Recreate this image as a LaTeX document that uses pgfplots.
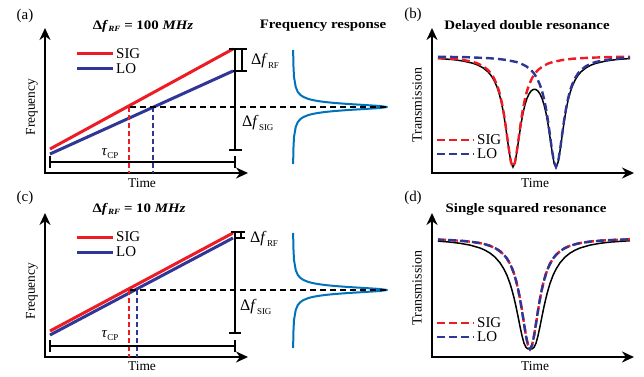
\documentclass[border=0pt]{standalone}
\usepackage{pgfplots}
\pgfplotsset{compat=1.18}
\usepackage{fontspec}
\setmainfont{Liberation Serif}
\usetikzlibrary{arrows.meta}
\definecolor{sigred}{RGB}{237,28,36}
\definecolor{loblue}{RGB}{46,54,150}
\definecolor{frblue}{RGB}{0,114,188}
\newcommand{\fs}[1]{\fontsize{#1}{#1}\selectfont}
\newcommand{\dfl}[1]{{\fs{16}Δ\textit{f}\kern0.3bp\raisebox{-3.5bp}{\fs{9}#1}}}
\newcommand{\ttl}[1]{\scalebox{1.15}[1]{\fs{13}\bfseries #1}}
\newcommand{\dft}[1]{\ttl{Δ\textit{f}\raisebox{-2.5bp}{\fs{8}\textit{RF}} = #1 \textit{MHz}}}
\newcommand{\tcp}{{\fs{15}\textit{τ}\raisebox{-3bp}{\fs{9}CP}}}
\tikzset{axarr/.style={black, line width=2bp, {Stealth[length=12bp,width=11bp]}-{Stealth[length=12bp,width=11bp]}, line join=miter},
 brk/.style={black, line width=1.8bp},
 vd/.style={line width=1.8bp, dash pattern=on 5bp off 3bp},
 hd/.style={black, line width=1.8bp, dash pattern=on 6bp off 4bp},
 cd/.style={line width=2.4bp, dash pattern=on 8bp off 4bp}}
\begin{document}
\begin{tikzpicture}
\useasboundingbox (0,0) rectangle (644bp,377bp);
\begin{axis}[at={(0,0)}, anchor=south west, scale only axis, width=644bp, height=377bp,
  xmin=0, xmax=644, ymin=0, ymax=377, y dir=reverse, axis lines=none, ticks=none, clip=false]
% ---------------- panel (a) ----------------
\addplot[axarr] coordinates {(45,28)(45,173)(248,173)};
\addplot[sigred, line width=3bp] coordinates {(50,149)(233,49)};
\addplot[loblue, line width=3bp] coordinates {(50,154)(233,71)};
\addplot[sigred, line width=3bp] coordinates {(77,54)(113,54)};
\addplot[loblue, line width=3bp] coordinates {(77,69)(113,69)};
\addplot[sigred, vd] coordinates {(129,107)(129,173)};
\addplot[loblue, vd] coordinates {(153,107)(153,173)};
\addplot[brk] coordinates {(50,162)(235,162)};
\addplot[brk] coordinates {(50,156)(50,168)};
\addplot[brk] coordinates {(235,156)(235,168)};
\addplot[brk] coordinates {(235,49)(235,150)};
\addplot[brk] coordinates {(229,49)(247,49)};
\addplot[brk] coordinates {(242,49)(242,71)};
\addplot[brk] coordinates {(233,71)(247,71)};
\addplot[brk] coordinates {(229,150)(242,150)};
\addplot[frblue, line width=2bp, line join=round] coordinates {(293.1,50)(293.5,67)(294.0,77)(295.7,87)(297.8,92)(300.5,95)(303.5,97)(308.5,99)(312.4,100)(317.7,101)(324.9,102)(334.9,103)(348.3,104)(364.7,105)(380.2,106)(387,107)(380.2,108)(364.7,109)(348.3,110)(334.9,111)(324.9,112)(317.7,113)(312.4,114)(308.5,115)(303.5,117)(300.5,119)(297.8,122)(295.7,127)(294.0,137)(293.5,147)(293.1,164)};
\addplot[hd] coordinates {(130,107)(388,107)};
% ---------------- panel (c) ----------------
\addplot[axarr] coordinates {(45,213)(45,357)(248,357)};
\addplot[sigred, line width=3bp] coordinates {(50,331)(233,233)};
\addplot[loblue, line width=3bp] coordinates {(50,335)(233,238)};
\addplot[sigred, line width=3bp] coordinates {(77,237)(113,237)};
\addplot[loblue, line width=3bp] coordinates {(77,252)(113,252)};
\addplot[sigred, vd] coordinates {(129,290)(129,357)};
\addplot[loblue, vd] coordinates {(137,290)(137,357)};
\addplot[brk] coordinates {(50,346)(235,346)};
\addplot[brk] coordinates {(50,340)(50,352)};
\addplot[brk] coordinates {(235,340)(235,352)};
\addplot[brk] coordinates {(235,232)(235,333)};
\addplot[brk] coordinates {(231,232)(245,232)};
\addplot[brk] coordinates {(241,232)(241,238)};
\addplot[brk] coordinates {(235,238)(245,238)};
\addplot[brk] coordinates {(229,333)(241,333)};
\addplot[frblue, line width=2bp, line join=round] coordinates {(293.1,233)(293.5,250)(294.0,260)(295.7,270)(297.8,275)(300.5,278)(303.5,280)(308.5,282)(312.4,283)(317.7,284)(324.9,285)(334.9,286)(348.3,287)(364.7,288)(380.2,289)(387,290)(380.2,291)(364.7,292)(348.3,293)(334.9,294)(324.9,295)(317.7,296)(312.4,297)(308.5,298)(303.5,300)(300.5,302)(297.8,305)(295.7,310)(294.0,320)(293.5,330)(293.1,348)};
\addplot[hd] coordinates {(130,290)(388,290)};
% ---------------- panel (b) ----------------
\addplot[axarr] coordinates {(432,28)(432,173)(634,173)};
\addplot[black, line width=1.5bp] coordinates {(438,58.5)(453,59.6)(463,61.0)(473,63.3)(478,65.1)(483,67.8)(488,71.8)(491,75.4)(494,80.2)(497,87.0)(499,93.0)(501,100.7)(503,110.4)(505,122.5)(507,136.5)(509,150.9)(511,162.5)(513,167)(515,162.6)(517,151.2)(519,137.3)(521,124.1)(523,113.1)(525,104.6)(527,98.3)(529,94.0)(531,91.1)(533,89.6)(534.5,89.3)(536,89.6)(538,91.1)(540,94.0)(542,98.3)(544,104.6)(546,113.1)(548,124.1)(550,137.3)(552,151.2)(554,162.6)(556,167)(558,162.5)(560,150.9)(562,136.5)(564,122.5)(566,110.4)(568,100.7)(570,93.0)(572,87.0)(575,80.2)(578,75.4)(581,71.8)(586,67.8)(591,65.1)(596,63.3)(606,61.0)(616,59.6)(630,58.5)};
\addplot[sigred, cd] coordinates {(438,57.8)(453,58.7)(463,59.9)(473,61.9)(478,63.6)(483,66.1)(488,70.0)(491,73.4)(494,78.2)(497,85.0)(499,91.0)(501,98.7)(503,108.6)(505,120.9)(507,135.4)(509,150.2)(511,162.3)(513,167)(515,162.3)(517,150.2)(519,135.4)(521,120.9)(523,108.6)(525,98.7)(527,91.0)(529,85.0)(532,78.2)(535,73.4)(538,70.0)(543,66.1)(548,63.6)(553,61.9)(563,59.9)(573,58.7)(588,57.8)(608,57.1)(630,56.7)};
\addplot[loblue, cd] coordinates {(438,56.7)(466,57.2)(486,58.0)(496,58.7)(506,59.9)(516,61.9)(521,63.6)(526,66.1)(531,70.0)(534,73.4)(537,78.2)(540,85.0)(542,91.0)(544,98.7)(546,108.6)(548,120.9)(550,135.4)(552,150.2)(554,162.3)(556,167)(558,162.3)(560,150.2)(562,135.4)(564,120.9)(566,108.6)(568,98.7)(570,91.0)(572,85.0)(575,78.2)(578,73.4)(581,70.0)(586,66.1)(591,63.6)(596,61.9)(606,59.9)(616,58.7)(630,57.8)};
\addplot[sigred, cd] coordinates {(437,140)(474,140)};
\addplot[loblue, cd] coordinates {(437,154)(474,154)};
% ---------------- panel (d) ----------------
\addplot[axarr] coordinates {(432,213)(432,357)(634,357)};
\addplot[black, line width=1.5bp] coordinates {(438,241.1)(450,242.1)(460,243.3)(470,245.1)(480,248.0)(485,250.2)(490,253.1)(495,257.1)(500,262.8)(504,269.2)(507,275.4)(510,283.5)(512,290.2)(514,297.8)(516,306.6)(518,316.3)(520,326.4)(522,335.7)(524,343.2)(526,347.4)(528,348.9)(530,349)(532,348.9)(534,347.4)(536,343.2)(538,335.7)(540,326.4)(542,316.3)(544,306.6)(546,297.8)(548,290.2)(550,283.5)(553,275.4)(556,269.2)(560,262.8)(565,257.1)(570,253.1)(575,250.2)(580,248.0)(590,245.1)(600,243.3)(610,242.1)(630,240.7)};
\addplot[sigred, cd] coordinates {(438,239.6)(450,240.1)(460,240.7)(470,241.6)(480,243.1)(485,244.3)(490,245.8)(495,248.0)(500,251.2)(504,254.9)(507,258.6)(510,263.8)(512,268.2)(514,273.6)(516,280.4)(518,288.7)(520,298.8)(522,310.6)(524,323.6)(526,336.0)(528,345.4)(530,349)(532,345.4)(534,336.0)(536,323.6)(538,310.6)(540,298.8)(542,288.7)(544,280.4)(546,273.6)(548,268.2)(550,263.8)(553,258.6)(556,254.9)(560,251.2)(565,248.0)(570,245.8)(575,244.3)(580,243.1)(590,241.6)(600,240.7)(610,240.1)(630,239.3)};
\addplot[loblue, cd, dash phase=2bp] coordinates {(438,239.6)(450,240.1)(460,240.7)(470,241.6)(480,243.1)(485,244.3)(490,245.8)(495,248.0)(500,251.2)(504,254.9)(507,258.6)(510,263.8)(512,268.2)(514,273.6)(516,280.4)(518,288.7)(520,298.8)(522,310.6)(524,323.6)(526,336.0)(528,345.4)(530,349)(532,345.4)(534,336.0)(536,323.6)(538,310.6)(540,298.8)(542,288.7)(544,280.4)(546,273.6)(548,268.2)(550,263.8)(553,258.6)(556,254.9)(560,251.2)(565,248.0)(570,245.8)(575,244.3)(580,243.1)(590,241.6)(600,240.7)(610,240.1)(630,239.3)};
\addplot[sigred, cd] coordinates {(437,323)(474,323)};
\addplot[loblue, cd] coordinates {(437,337)(474,337)};
% ---------------- texts ----------------
\node[inner sep=0] at (axis cs:25,16) {\fs{15}(a)};
\node[inner sep=0] at (axis cs:25,198) {\fs{15}(c)};
\node[inner sep=0] at (axis cs:413,15) {\fs{15}(b)};
\node[inner sep=0] at (axis cs:413,198) {\fs{15}(d)};
\node[inner sep=0] at (axis cs:143,26) {\dft{100}};
\node[inner sep=0] at (axis cs:139,209) {\dft{10}};
\node[inner sep=0] at (axis cs:323,26) {\ttl{Frequency response}};
\node[inner sep=0] at (axis cs:527,26) {\ttl{Delayed double resonance}};
\node[inner sep=0] at (axis cs:526,209) {\ttl{Single squared resonance}};
\node[inner sep=0, anchor=west] at (axis cs:116,54) {\fs{15}SIG};
\node[inner sep=0, anchor=west] at (axis cs:116,69) {\fs{15}LO};
\node[inner sep=0, anchor=west] at (axis cs:116,237) {\fs{15}SIG};
\node[inner sep=0, anchor=west] at (axis cs:116,252) {\fs{15}LO};
\node[inner sep=0, anchor=west] at (axis cs:477,140) {\fs{15}SIG};
\node[inner sep=0, anchor=west] at (axis cs:477,154) {\fs{15}LO};
\node[inner sep=0, anchor=west] at (axis cs:477,323) {\fs{15}SIG};
\node[inner sep=0, anchor=west] at (axis cs:477,337) {\fs{15}LO};
\node[inner sep=0] at (axis cs:142,183) {\fs{13.5}Time};
\node[inner sep=0] at (axis cs:142,366) {\fs{13.5}Time};
\node[inner sep=0] at (axis cs:535,183) {\fs{13.5}Time};
\node[inner sep=0] at (axis cs:535,366) {\fs{13.5}Time};
\node[inner sep=0, rotate=90] at (axis cs:32,107) {\fs{13.5}Frequency};
\node[inner sep=0, rotate=90] at (axis cs:32,291) {\fs{13.5}Frequency};
\node[inner sep=0, rotate=90] at (axis cs:417,105) {\fs{14}Transmission};
\node[inner sep=0, rotate=90] at (axis cs:417,288) {\fs{14}Transmission};
\node[inner sep=0] at (axis cs:110,154) {\tcp};
\node[inner sep=0] at (axis cs:110,336) {\tcp};
\node[inner sep=0, anchor=west] at (axis cs:251,61) {\dfl{RF}};
\node[inner sep=0, anchor=west] at (axis cs:242,123) {\dfl{SIG}};
\node[inner sep=0, anchor=west] at (axis cs:250,239) {\dfl{RF}};
\node[inner sep=0, anchor=west] at (axis cs:240,307) {\dfl{SIG}};
\end{axis}
\end{tikzpicture}
\end{document}
